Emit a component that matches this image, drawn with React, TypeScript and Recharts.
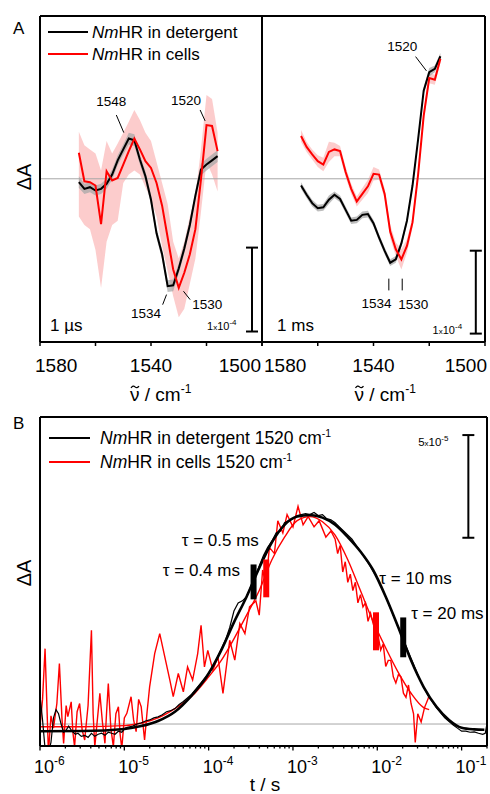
import React from 'react';
import {
  ComposedChart,
  Line,
  Area,
  XAxis,
  YAxis,
  ReferenceLine,
  ReferenceDot,
  Legend,
} from 'recharts';

const FONT = '"Liberation Sans", Arial, Helvetica, sans-serif';
const RED = '#ff0000';

// ---------------- Panel A data (ΔA in units of 1e-4) ----------------
const WAVENUMBERS = [1566, 1564, 1562, 1560, 1558, 1556, 1554, 1552, 1550, 1548, 1546, 1544, 1542, 1540, 1538, 1536, 1534, 1532, 1530, 1528, 1526, 1524, 1522, 1520, 1518, 1516];

const US_DETERGENT = [-0.04, -0.12, -0.1, -0.14, -0.12, -0.06, 0.05, 0.22, 0.35, 0.48, 0.46, 0.23, 0.03, -0.25, -0.65, -0.9, -1.28, -1.27, -1.07, -0.83, -0.55, -0.2, 0.11, 0.17, 0.22, 0.27];
const US_DETERGENT_ERR = [0.07, 0.06, 0.06, 0.06, 0.06, 0.06, 0.06, 0.06, 0.06, 0.07, 0.07, 0.06, 0.06, 0.06, 0.06, 0.06, 0.07, 0.07, 0.06, 0.06, 0.06, 0.06, 0.07, 0.07, 0.07, 0.07];
const US_CELLS = [0.31, -0.03, -0.04, -0.08, -0.54, 0.09, -0.02, 0.01, 0.17, 0.33, 0.48, 0.35, 0.21, 0.13, -0.05, -0.32, -0.7, -1.08, -1.3, -1.12, -0.9, -0.6, -0.01, 0.64, 0.63, 0.33];
const US_CELLS_LOW = [-0.45, -0.55, -0.6, -0.85, -1.3, -0.75, -0.55, -0.5, -0.05, 0.05, 0.1, 0.05, -0.1, -0.25, -0.45, -0.8, -1.1, -1.4, -1.65, -1.55, -1.25, -0.95, -0.4, 0.2, 0.05, -0.15];
const US_CELLS_HIGH = [0.56, 0.4, 0.35, 0.3, 0.1, 0.45, 0.3, 0.42, 0.55, 0.68, 0.82, 0.7, 0.55, 0.45, 0.2, -0.05, -0.3, -0.75, -0.95, -0.75, -0.45, -0.2, 0.35, 1.0, 0.95, 0.55];

const MS_DETERGENT = [-0.08, -0.19, -0.29, -0.35, -0.34, -0.25, -0.19, -0.24, -0.37, -0.5, -0.49, -0.43, -0.42, -0.53, -0.7, -0.86, -1.0, -0.96, -0.77, -0.5, -0.08, 0.47, 1.05, 1.27, 1.31, 1.46];
const MS_DETERGENT_ERR = [0.04, 0.04, 0.04, 0.04, 0.04, 0.05, 0.04, 0.04, 0.04, 0.04, 0.04, 0.04, 0.04, 0.04, 0.04, 0.04, 0.04, 0.04, 0.04, 0.04, 0.04, 0.04, 0.04, 0.05, 0.04, 0.04];
const MS_CELLS = [0.51, 0.38, 0.29, 0.21, 0.17, 0.32, 0.35, 0.33, 0.08, -0.12, -0.27, -0.18, -0.09, 0.06, 0.05, -0.18, -0.63, -0.84, -0.96, -0.8, -0.52, 0.05, 0.75, 1.2, 1.18, 1.43];
const MS_CELLS_ERR = [0.07, 0.06, 0.06, 0.07, 0.08, 0.12, 0.08, 0.06, 0.06, 0.06, 0.06, 0.07, 0.08, 0.08, 0.06, 0.06, 0.08, 0.08, 0.12, 0.08, 0.06, 0.06, 0.06, 0.06, 0.06, 0.05];

const WN_TICKS = [1580, 1560, 1540, 1520, 1500];
const WN_LABELLED = [1580, 1540, 1500];
const A_DOMAIN: [number, number] = [-1.945, 1.94];

// ---------------- Panel B data (log10 t / s, ΔA in units of 1e-5) ----------------
const BLACK_FIT_LOGT = [-6.0, -5.5, -5.0, -4.8, -4.6, -4.4, -4.2, -4.0, -3.85, -3.7, -3.55, -3.4, -3.25, -3.1, -2.95, -2.8, -2.65, -2.5, -2.35, -2.2, -2.05, -1.9, -1.75, -1.6, -1.45, -1.3, -1.15, -1.0, -0.85, -0.73];
const BLACK_FIT_DA = [-0.35, -0.34, -0.24, -0.1, 0.15, 0.6, 1.4, 2.46, 3.6, 4.95, 6.2, 7.6, 8.85, 9.7, 10.1, 10.18, 10.05, 9.7, 9.1, 8.4, 7.5, 6.2, 4.7, 3.1, 1.8, 0.85, 0.2, -0.18, -0.26, -0.28];

const BLACK_RAW_LOGT = [-6.0, -5.97, -5.94, -5.9, -5.87, -5.84, -5.81, -5.78, -5.75, -5.72, -5.69, -5.66, -5.62, -5.58, -5.55, -5.51, -5.47, -5.43, -5.39, -5.35, -5.31, -5.27, -5.23, -5.19, -5.15, -5.11, -5.07, -5.03, -4.99, -4.95, -4.9, -4.85, -4.8, -4.75, -4.7, -4.65, -4.6, -4.55, -4.5, -4.45, -4.4, -4.35, -4.3, -4.2, -4.1, -4.0, -3.9, -3.8, -3.75, -3.7, -3.65, -3.6, -3.55, -3.5, -3.45, -3.4, -3.35, -3.3, -3.25, -3.2, -3.15, -3.1, -3.05, -3.0, -2.95, -2.9, -2.85, -2.8, -2.75, -2.7, -2.65, -2.6, -2.55, -2.5, -2.45, -2.4, -2.3, -2.2, -2.1, -2.0, -1.9, -1.8, -1.7, -1.6, -1.5, -1.4, -1.3, -1.2, -1.1, -1.05, -1.0, -0.95, -0.9, -0.85, -0.8, -0.75, -0.72, -0.7];
const BLACK_RAW_DA = [1.4, 0.2, -1.2, -1.4, -0.9, 0.3, 0.7, 0.5, 0.0, -0.4, -0.3, -0.1, -0.35, -0.5, -0.45, -0.6, -0.55, -0.65, -0.45, -0.6, -0.5, -0.45, -0.55, -0.4, -0.45, -0.5, -0.35, -0.4, -0.2, -0.15, -0.1, 0.0, 0.05, 0.15, 0.2, 0.3, 0.35, 0.45, 0.6, 0.65, 0.75, 0.95, 1.1, 1.45, 1.95, 2.45, 3.2, 4.1, 4.7, 5.5, 5.9, 6.0, 6.2, 6.7, 7.2, 7.7, 8.2, 8.6, 8.9, 9.3, 9.4, 9.8, 9.9, 10.0, 10.15, 10.2, 10.25, 10.2, 10.3, 10.15, 10.2, 10.0, 9.95, 9.8, 9.6, 9.4, 9.0, 8.4, 7.8, 7.1, 6.2, 5.2, 4.2, 3.2, 2.2, 1.4, 0.8, 0.3, -0.05, -0.2, -0.35, -0.35, -0.4, -0.38, -0.45, -0.5, -0.45, 0.0];

const RED_FIT_LOGT = [-6.0, -5.5, -5.0, -4.8, -4.6, -4.4, -4.2, -4.0, -3.85, -3.7, -3.55, -3.4, -3.25, -3.1, -2.95, -2.8, -2.65, -2.5, -2.35, -2.2, -2.05, -1.9, -1.75, -1.6, -1.45, -1.385];
const RED_FIT_DA = [-0.13, -0.13, -0.08, 0.05, 0.3, 0.75, 1.35, 2.3, 3.1, 4.15, 5.3, 6.5, 8.0, 9.1, 9.9, 10.1, 9.85, 9.2, 8.0, 6.5, 5.0, 3.7, 2.5, 1.5, 0.8, 0.7];

const RED_RAW_LOGT = [-6.0, -5.97, -5.94, -5.9, -5.87, -5.84, -5.8, -5.77, -5.74, -5.72, -5.69, -5.67, -5.63, -5.61, -5.59, -5.56, -5.53, -5.5, -5.47, -5.43, -5.39, -5.37, -5.35, -5.32, -5.29, -5.26, -5.23, -5.21, -5.19, -5.16, -5.13, -5.1, -5.07, -5.05, -5.03, -5.0, -4.97, -4.92, -4.89, -4.86, -4.83, -4.8, -4.76, -4.73, -4.7, -4.64, -4.58, -4.52, -4.46, -4.42, -4.36, -4.3, -4.25, -4.19, -4.13, -4.09, -4.05, -4.01, -3.95, -3.89, -3.83, -3.75, -3.69, -3.63, -3.57, -3.515, -3.44, -3.4, -3.36, -3.32, -3.28, -3.22, -3.18, -3.12, -3.07, -3.0, -2.94, -2.88, -2.82, -2.75, -2.69, -2.61, -2.55, -2.5, -2.47, -2.44, -2.41, -2.38, -2.35, -2.32, -2.29, -2.26, -2.23, -2.2, -2.17, -2.14, -2.11, -2.08, -2.05, -2.02, -1.99, -1.96, -1.93, -1.9, -1.87, -1.84, -1.81, -1.78, -1.75, -1.72, -1.69, -1.66, -1.63, -1.6, -1.57, -1.55, -1.52, -1.48, -1.44, -1.4, -1.385];
const RED_RAW_DA = [-0.13, 1.2, 3.67, -1.4, 0.4, -0.2, 1.0, 2.94, 0.3, -0.94, 0.9, 0.36, 1.08, -0.4, -1.1, 0.6, 1.0, -0.3, -0.78, 0.9, 4.56, 0.5, -1.1, 0.2, 1.49, 0.1, -0.94, 0.6, 1.97, -0.2, -1.1, 0.5, 0.84, -0.5, -1.18, 0.3, 0.52, 1.33, 0.2, -0.37, 1.2, 0.84, -0.78, 0.6, 1.81, 3.43, 4.4, 3.27, 2.14, 1.33, 2.46, 1.57, 2.78, 2.14, 3.43, 4.81, 2.78, 3.59, 2.62, 3.27, 1.49, 4.08, 3.11, 4.89, 4.4, 5.7, 6.0, 5.3, 7.5, 6.8, 8.6, 8.3, 9.9, 9.3, 10.2, 9.6, 10.6, 9.7, 10.1, 9.6, 9.9, 9.1, 9.4, 9.0, 8.3, 8.7, 7.4, 7.9, 6.9, 7.3, 6.5, 6.9, 5.9, 6.3, 5.7, 5.9, 5.0, 5.4, 4.9, 4.5, 4.3, 3.6, 3.9, 2.8, 3.1, 3.1, 2.3, 2.0, 2.4, 2.3, 1.5, 1.3, 1.9, 1.0, 0.5, -0.9, 0.5, 0.1, 0.8, 1.2, 1.4];

const TIME_DECADES = [-6, -5, -4, -3, -2, -1];
const TIME_TICKS = TIME_DECADES.flatMap((d) => [1, 2, 3, 4, 5, 6, 7, 8, 9].map((k) => k * Math.pow(10, d))).filter((t) => t <= 0.2000001);
const B_DOMAIN: [number, number] = [-1.07, 14.95];
const T_DOMAIN: [number, number] = [1e-6, 0.2];

// ---------------- tables ----------------
const usRows = WAVENUMBERS.map((wn, i) => ({
  wn,
  det: US_DETERGENT[i],
  cell: US_CELLS[i],
  detBand: [US_DETERGENT[i] - US_DETERGENT_ERR[i], US_DETERGENT[i] + US_DETERGENT_ERR[i]],
  cellBand: [US_CELLS_LOW[i], US_CELLS_HIGH[i]],
}));
const msRows = WAVENUMBERS.map((wn, i) => ({
  wn,
  det: MS_DETERGENT[i],
  cell: MS_CELLS[i],
  detBand: [MS_DETERGENT[i] - MS_DETERGENT_ERR[i], MS_DETERGENT[i] + MS_DETERGENT_ERR[i]],
  cellBand: [MS_CELLS[i] - MS_CELLS_ERR[i], MS_CELLS[i] + MS_CELLS_ERR[i]],
}));
const toRows = (lt: number[], v: number[]) => lt.map((e, i) => ({ t: Math.pow(10, e), v: v[i] }));
const blackFit = toRows(BLACK_FIT_LOGT, BLACK_FIT_DA);
const blackRaw = toRows(BLACK_RAW_LOGT, BLACK_RAW_DA);
const redFit = toRows(RED_FIT_LOGT, RED_FIT_DA);
const redRaw = toRows(RED_RAW_LOGT, RED_RAW_DA);

// ---------------- helpers ----------------
const txt = (
  key: string,
  x: number,
  y: number,
  content: React.ReactNode,
  size = 13.5,
  anchor: 'start' | 'middle' | 'end' = 'middle',
  dy = 0,
) => (
  <ReferenceDot
    key={key}
    x={x}
    y={y}
    r={0}
    ifOverflow="visible"
    shape={(p: any) => (
      <text x={p.cx} y={p.cy} dy={dy} textAnchor={anchor} fontSize={size} fontFamily={FONT} fill="#000">
        {content}
      </text>
    )}
  />
);

const seg = (key: string, x1: number, y1: number, x2: number, y2: number, w = 1, color = '#000') => (
  <ReferenceLine
    key={key}
    segment={[{ x: x1, y: y1 }, { x: x2, y: y2 }]}
    stroke={color}
    strokeWidth={w}
    ifOverflow="visible"
  />
);

const sci = (mant: string, exp: string) => (
  <>
    {mant}
    <tspan fontSize={8}>x</tspan>
    10
    <tspan dy={-5} fontSize={8}>
      {exp}
    </tspan>
  </>
);

const renderName = (name: string, size: number) => {
  const rest = name.slice(2);
  const hasCm = rest.endsWith('cm-1');
  const body = hasCm ? rest.slice(0, -2) : rest;
  return (
    <>
      <tspan fontStyle="italic">Nm</tspan>
      <tspan>{body}</tspan>
      {hasCm && (
        <tspan dy={-size * 0.42} fontSize={size * 0.6}>
          -1
        </tspan>
      )}
    </>
  );
};

const makeLegend = (lineLen: number, gap: number, rowGap: number, size: number) => (props: any) => {
  const items = (props.payload || [])
    .filter((p: any) => p.type !== 'none')
    .slice()
    .sort((a: any, b: any) => (String(a.value).includes('detergent') ? -1 : 0) - (String(b.value).includes('detergent') ? -1 : 0));
  return (
    <svg width={380} height={rowGap * items.length + 12} style={{ display: 'block', overflow: 'visible' }}>
      {items.map((it: any, i: number) => {
        const cy = 8 + i * rowGap;
        return (
          <g key={i}>
            <line x1={0} x2={lineLen} y1={cy} y2={cy} stroke={it.color} strokeWidth={2} />
            <text x={lineLen + gap} y={cy + size * 0.36} fontSize={size} fontFamily={FONT} fill="#000">
              {renderName(String(it.value), size)}
            </text>
          </g>
        );
      })}
    </svg>
  );
};

const makeWnTick = (startDx: number, endDx: number) => (props: any) => {
  const { x, y, payload } = props;
  const v = payload.value;
  let label = null;
  if (WN_LABELLED.includes(v)) {
    const anchor = v === 1580 ? 'start' : v === 1500 ? 'end' : 'middle';
    const dx = v === 1580 ? startDx : v === 1500 ? endDx : 0;
    label = (
      <text x={x + dx} y={y + 30} textAnchor={anchor} fontSize={19} fontFamily={FONT} fill="#000">
        {v}
      </text>
    );
  }
  return (
    <g>
      <line x1={x} x2={x} y1={y} y2={y + 4} stroke="#000" strokeWidth={1.5} />
      {label}
    </g>
  );
};

const timeTick = (props: any) => {
  const { x, y, payload } = props;
  const lg = Math.log10(payload.value);
  const major = Math.abs(lg - Math.round(lg)) < 1e-6;
  return (
    <g>
      <line x1={x} x2={x} y1={y} y2={y + (major ? 4.5 : 2.5)} stroke="#000" strokeWidth={1.3} />
      {major && (
        <text x={x - 6} y={y + 27} textAnchor="start" fontSize={18} fontFamily={FONT} fill="#000">
          10
          <tspan dy={-8} fontSize={12}>
            {'-' + String(-Math.round(lg))}
          </tspan>
        </text>
      )}
    </g>
  );
};

// wavenumber axis title: ν with a drawn tilde above it, then " / cm-1"
const wnTitle = (shift: number) => (p: any) => {
  const vb = p.viewBox || { x: 0, y: 0, width: 0, height: 0 };
  const sx = vb.x + vb.width / 2 + shift - 35;
  const by = vb.y + 59;
  return (
    <g>
      <path
        d={`M ${sx + 1} ${by - 13} q 2 -3.2 4 -1.2 t 4 -0.6`}
        fill="none"
        stroke="#000"
        strokeWidth={1.2}
      />
      <text x={sx} y={by} textAnchor="start" fontSize={19} fontFamily={FONT} fill="#000">
        {'\u03BD / cm'}
        <tspan dy={-8} fontSize={12}>
          -1
        </tspan>
      </text>
    </g>
  );
};

const frameA = (key: string) => [
  <ReferenceLine key={key + 'l'} x={1580} stroke="#000" strokeWidth={2} ifOverflow="visible" />,
  <ReferenceLine key={key + 'r'} x={1500} stroke="#000" strokeWidth={2} ifOverflow="visible" />,
  <ReferenceLine key={key + 't'} y={A_DOMAIN[1]} stroke="#000" strokeWidth={2} ifOverflow="visible" />,
];

const spectrumSeries = () => [
  <ReferenceLine key="zero" y={0} stroke="#a6a6a6" strokeWidth={1} />,
  <Area key="cb" type="linear" dataKey="cellBand" stroke="none" fill="#fbc3c3" fillOpacity={0.85} isAnimationActive={false} legendType="none" activeDot={false} />,
  <Area key="db" type="linear" dataKey="detBand" stroke="none" fill="#a8a8a8" fillOpacity={0.75} isAnimationActive={false} legendType="none" activeDot={false} />,
  <Line key="dl" type="linear" dataKey="det" name="NmHR in detergent" stroke="#000" strokeWidth={2} dot={false} isAnimationActive={false} />,
  <Line key="cl" type="linear" dataKey="cell" name="NmHR in cells" stroke={RED} strokeWidth={2} dot={false} isAnimationActive={false} />,
];

export default function App() {
  return (
    <div style={{ position: 'absolute', left: 0, top: 0, width: 490, height: 794, background: '#fff', fontFamily: FONT }}>
      {/* Panel A, 1 µs */}
      <div style={{ position: 'absolute', left: 0, top: 0 }}>
        <ComposedChart width={264} height={405} data={usRows} margin={{ top: 16, right: 2, bottom: 3, left: 0 }}>
          <XAxis
            dataKey="wn"
            type="number"
            domain={[1500, 1580]}
            reversed
            allowDataOverflow
            ticks={WN_TICKS}
            interval={0}
            tickSize={0}
            tickMargin={0}
            tickLine={false}
            tick={makeWnTick(-5, -1)}
            axisLine={{ stroke: '#000', strokeWidth: 2 }}
            height={60}
            label={wnTitle(14)}
          />
          <YAxis
            type="number"
            domain={A_DOMAIN}
            allowDataOverflow
            width={40}
            tick={false}
            tickLine={false}
            axisLine={false}
            label={() => (
              <g>
                <text x={13} y={33.5} fontSize={17} fontFamily={FONT} fill="#000">A</text>
                <text transform="translate(30.5,177) rotate(-90)" textAnchor="middle" fontSize={20} fontFamily={FONT} fill="#000">
                  {'\u0394A'}
                </text>
              </g>
            )}
          />
          {spectrumSeries()}
          {frameA('fa')}
          {seg('s1', 1552.5, 0.76, 1549.8, 0.55)}
          {txt('t1', 1554.3, 0.92, '1548', 13.5, 'middle', 4.7)}
          {seg('s2', 1522.3, 0.82, 1520.5, 0.69)}
          {txt('t2', 1527.4, 0.94, '1520', 13.5, 'middle', 4.7)}
          {seg('s3', 1535.8, -1.5, 1534.4, -1.38)}
          {txt('t3', 1541.8, -1.6, '1534', 13.5, 'middle', 4.7)}
          {seg('s4', 1528.3, -1.34, 1525.9, -1.44)}
          {txt('t4', 1519.7, -1.5, '1530', 13.5, 'middle', 4.7)}
          {txt('t5', 1576.4, -1.81, '1 \u00B5s', 17, 'start')}
          {txt('t6', 1519.8, -1.8, sci('1', '-4'), 11, 'start')}
          {seg('sb1', 1503.6, -0.82, 1503.6, -1.82, 2)}
          {seg('sb2', 1505.76, -0.82, 1501.44, -0.82, 2)}
          {seg('sb3', 1505.76, -1.82, 1501.44, -1.82, 2)}
          <Legend
            verticalAlign="middle"
            align="center"
            layout="horizontal"
            wrapperStyle={{ left: 48, top: 24, width: 220, height: 50 }}
            content={makeLegend(40, 4, 22, 17)}
          />
        </ComposedChart>
      </div>

      {/* Panel A, 1 ms */}
      <div style={{ position: 'absolute', left: 240, top: 0 }}>
        <ComposedChart width={250} height={405} data={msRows} margin={{ top: 16, right: 5, bottom: 3, left: 22 }}>
          <XAxis
            dataKey="wn"
            type="number"
            domain={[1500, 1580]}
            reversed
            allowDataOverflow
            ticks={WN_TICKS}
            interval={0}
            tickSize={0}
            tickMargin={0}
            tickLine={false}
            tick={makeWnTick(2, 2)}
            axisLine={{ stroke: '#000', strokeWidth: 2 }}
            height={60}
            label={wnTitle(16)}
          />
          <YAxis type="number" domain={A_DOMAIN} allowDataOverflow hide />
          {spectrumSeries()}
          {frameA('fb')}
          {seg('r1', 1524.9, 1.456, 1521.0, 1.286)}
          {txt('u1', 1529.7, 1.575, '1520', 13.5, 'middle', 4.7)}
          {seg('r2', 1534.5, -1.19, 1534.5, -1.33)}
          {txt('u2', 1538.9, -1.48, '1534', 13.5, 'middle', 4.7)}
          {seg('r3', 1529.7, -1.19, 1529.7, -1.33)}
          {txt('u3', 1525.7, -1.49, '1530', 13.5, 'middle', 4.7)}
          {txt('u4', 1574.6, -1.81, '1 ms', 17, 'start')}
          {txt('u5', 1518.8, -1.85, sci('1', '-4'), 11, 'start')}
          {seg('rb1', 1503.3, -0.857, 1503.3, -1.845, 2)}
          {seg('rb2', 1505.46, -0.857, 1501.14, -0.857, 2)}
          {seg('rb3', 1505.46, -1.845, 1501.14, -1.845, 2)}
        </ComposedChart>
      </div>

      {/* Panel B */}
      <div style={{ position: 'absolute', left: 0, top: 400 }}>
        <ComposedChart width={490} height={394} margin={{ top: 17, right: 3, bottom: 2, left: 0 }}>
          <XAxis
            dataKey="t"
            type="number"
            scale="log"
            domain={T_DOMAIN}
            allowDataOverflow
            ticks={TIME_TICKS}
            interval={0}
            tickSize={0}
            tickMargin={0}
            tickLine={false}
            tick={timeTick}
            axisLine={{ stroke: '#000', strokeWidth: 2 }}
            height={46}
            label={(p: any) => {
              const vb = p.viewBox || { x: 0, y: 0, width: 0 };
              return (
                <text x={vb.x + vb.width / 2 + 1.5} y={vb.y + 45} textAnchor="middle" fontSize={19} fontFamily={FONT} fill="#000">
                  t / s
                </text>
              );
            }}
          />
          <YAxis
            type="number"
            domain={B_DOMAIN}
            allowDataOverflow
            width={40}
            tick={false}
            tickLine={false}
            axisLine={false}
            label={() => (
              <g>
                <text x={13} y={29} fontSize={17} fontFamily={FONT} fill="#000">B</text>
                <text transform="translate(31,173) rotate(-90)" textAnchor="middle" fontSize={20} fontFamily={FONT} fill="#000">
                  {'\u0394A'}
                </text>
              </g>
            )}
          />
          <ReferenceLine y={0} stroke="#a6a6a6" strokeWidth={1} />
          <Line data={redRaw} dataKey="v" name="NmHR in cells 1520 cm-1" stroke={RED} strokeWidth={1.4} dot={false} isAnimationActive={false} type="linear" />
          <Line data={redFit} dataKey="v" stroke={RED} strokeWidth={1.4} dot={false} isAnimationActive={false} type="monotone" legendType="none" />
          <Line data={blackRaw} dataKey="v" name="NmHR in detergent 1520 cm-1" stroke="#000" strokeWidth={1.2} dot={false} isAnimationActive={false} type="linear" />
          <Line data={blackFit} dataKey="v" stroke="#000" strokeWidth={2.6} dot={false} isAnimationActive={false} type="monotone" legendType="none" />
          <ReferenceLine x={T_DOMAIN[0]} stroke="#000" strokeWidth={2} ifOverflow="visible" />
          <ReferenceLine x={T_DOMAIN[1]} stroke="#000" strokeWidth={2} ifOverflow="visible" />
          <ReferenceLine y={B_DOMAIN[1]} stroke="#000" strokeWidth={2} ifOverflow="visible" />
          {seg('m1', 3.41e-4, 6.07, 3.41e-4, 7.77, 6, '#000')}
          {seg('m2', 4.82e-4, 6.17, 4.82e-4, 8.01, 6, RED)}
          {seg('m3', 9.66e-3, 3.59, 9.66e-3, 5.44, 6, RED)}
          {seg('m4', 2.03e-2, 3.25, 2.03e-2, 5.19, 6, '#000')}
          {txt('b1', 4.8e-5, 8.67, '\u03C4 = 0.5 ms', 17, 'start')}
          {txt('b2', 2.86e-5, 7.21, '\u03C4 = 0.4 ms', 17, 'start')}
          {txt('b3', 0.01057, 6.82, '\u03C4 = 10 ms', 17, 'start')}
          {txt('b4', 0.02523, 5.11, '\u03C4 = 20 ms', 17, 'start')}
          {txt('b5', 0.0305, 13.55, sci('5', '-5'), 11.5, 'start')}
          {seg('bb1', 0.1202, 14.07, 0.1202, 9.07, 2)}
          {seg('bb2', 0.1021, 14.07, 0.1415, 14.07, 2)}
          {seg('bb3', 0.1021, 9.07, 0.1415, 9.07, 2)}
          <Legend
            verticalAlign="middle"
            align="center"
            layout="horizontal"
            wrapperStyle={{ left: 49, top: 30, width: 320, height: 56 }}
            content={makeLegend(41, 10, 24, 17.5)}
          />
        </ComposedChart>
      </div>
    </div>
  );
}
